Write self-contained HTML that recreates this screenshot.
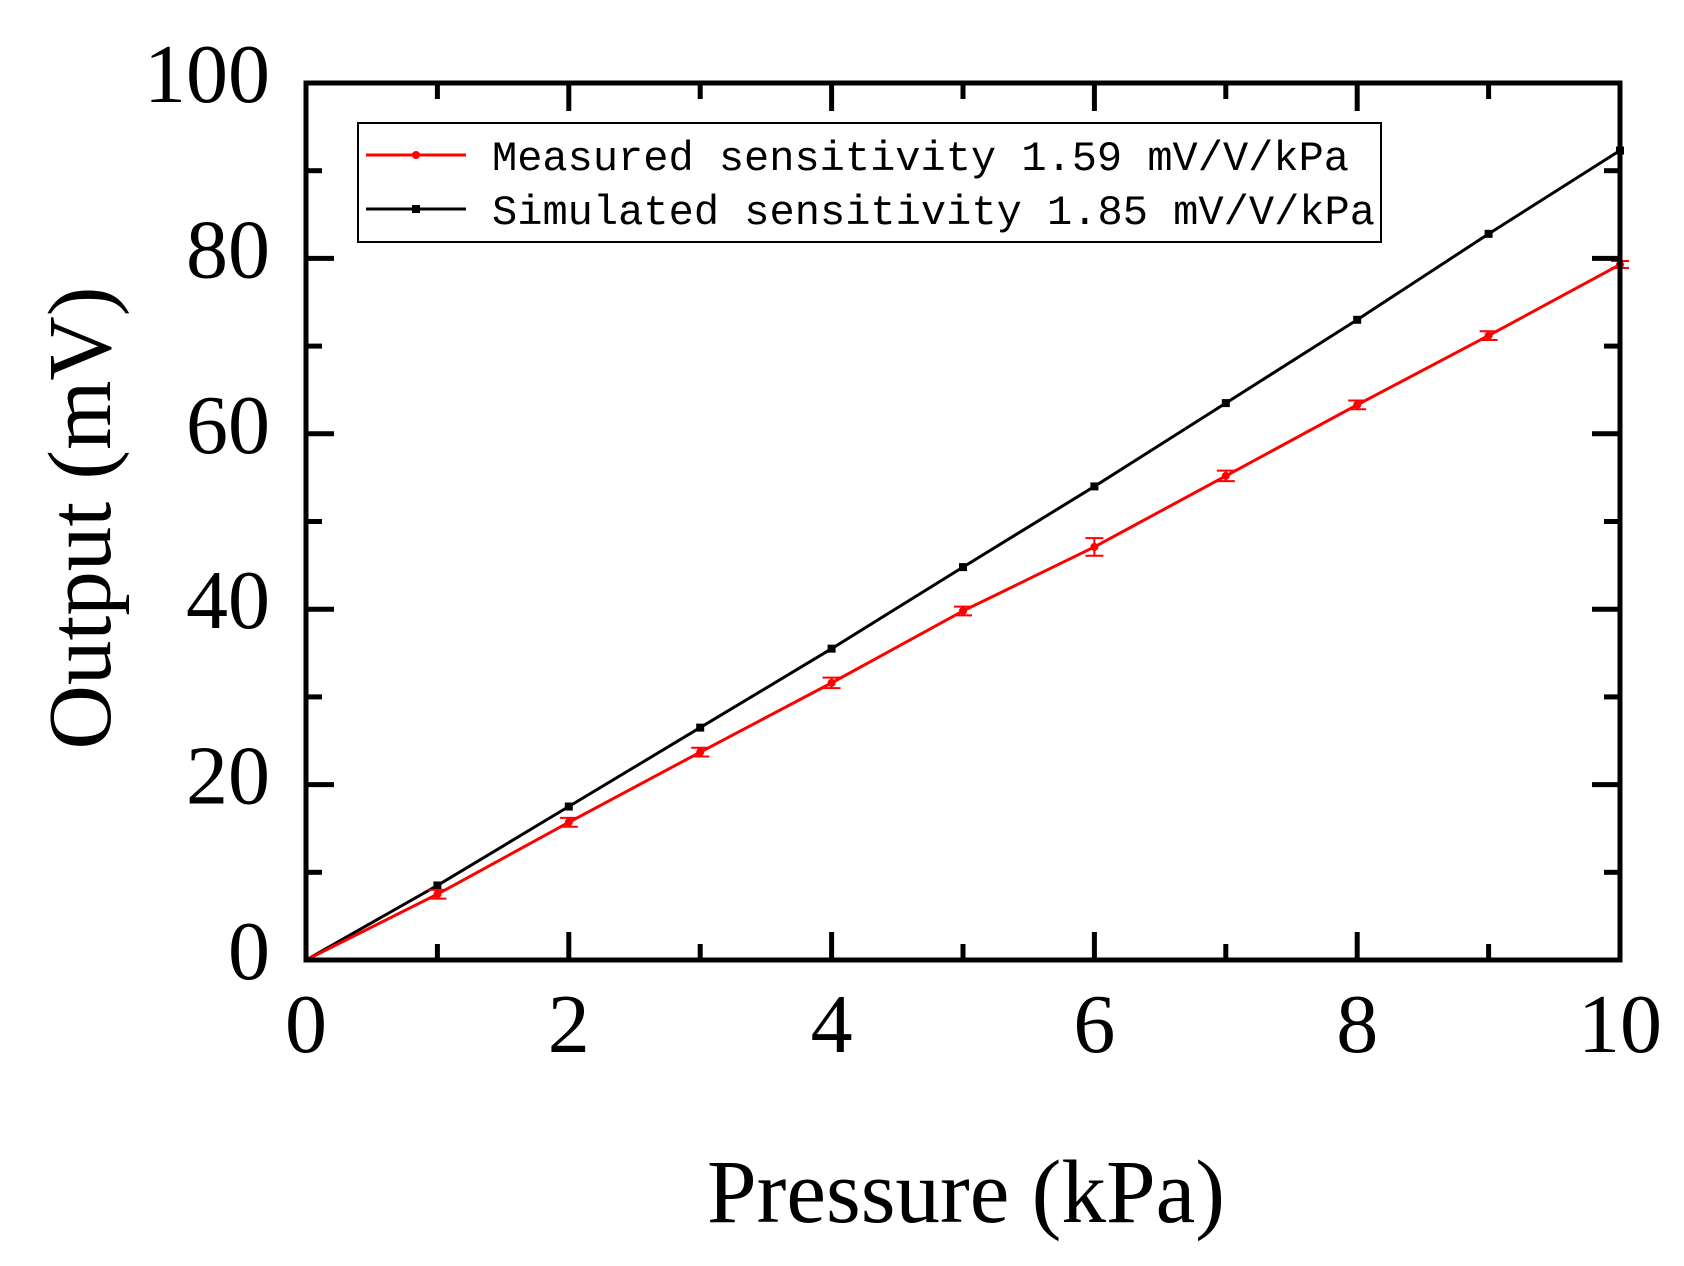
<!DOCTYPE html>
<html><head><meta charset="utf-8"><style>
html,body{margin:0;padding:0;background:#fff;}
svg{display:block;}
</style></head><body>
<svg id="chart" width="1684" height="1266" viewBox="0 0 1684 1266" xmlns="http://www.w3.org/2000/svg">
<rect x="0" y="0" width="1684" height="1266" fill="#fff"/>
<g id="marks"></g>
<rect x="306" y="83" width="1314" height="877" fill="none" stroke="#000" stroke-width="5"/>
<g id="ticks"></g>
<g>
<rect x="358" y="123" width="1023" height="119" fill="#fff" stroke="#000" stroke-width="2"/>
<g>
<line x1="366" y1="155" x2="466" y2="155" stroke="#f00" stroke-width="3"/>
<circle cx="416" cy="155" r="4" fill="#f00"/>
<text x="492" y="170" font-family="Liberation Mono, monospace" font-size="42" fill="#000" textLength="857" lengthAdjust="spacingAndGlyphs">Measured sensitivity 1.59 mV/V/kPa</text>
</g>
<g>
<line x1="366" y1="209" x2="466" y2="209" stroke="#000" stroke-width="3"/>
<rect x="412" y="205" width="8" height="8" fill="#000"/>
<text x="492" y="224" font-family="Liberation Mono, monospace" font-size="42" fill="#000" textLength="883" lengthAdjust="spacingAndGlyphs">Simulated sensitivity 1.85 mV/V/kPa</text>
</g>
</g>
<text x="966" y="1222" text-anchor="middle" font-family="Liberation Serif, serif" font-size="90" textLength="518" lengthAdjust="spacingAndGlyphs">Pressure (kPa)</text>
<text transform="translate(110,518) rotate(-90)" text-anchor="middle" font-family="Liberation Serif, serif" font-size="90" textLength="463" lengthAdjust="spacingAndGlyphs">Output (mV)</text>
</svg>
<script>
const xValues=[0,1,2,3,4,5,6,7,8,9,10];
const simulated=[0,8.5,17.5,26.5,35.5,44.8,54,63.5,73,82.8,92.3];
const measured=[0,7.5,15.7,23.7,31.6,39.8,47.1,55.2,63.3,71.2,79.3];
const measuredErr=[0,0.5,0.5,0.5,0.6,0.5,1.0,0.6,0.5,0.5,0.4];
const xTicks=[0,2,4,6,8,10];
const xMinor=[1,3,5,7,9];
const yTicks=[0,20,40,60,80,100];
const yMinor=[10,30,50,70,90];

const NS='http://www.w3.org/2000/svg';
const X0=306,X1=1620,Y0=960,Y1=83;
function sx(v){return X0+(v-0)/(10-0)*(X1-X0);}
function sy(v){return Y0-(v-0)/(100-0)*(Y0-Y1);}
function mk(tag,attrs,parent){const e=document.createElementNS(NS,tag);for(const k in attrs)e.setAttribute(k,attrs[k]);parent.appendChild(e);return e;}
const marks=document.getElementById('marks');
const ticks=document.getElementById('ticks');

function series(vals,color,name,square){
  const g=mk('g',{},marks);
  
  
  const pts=xValues.map((x,i)=>sx(x)+','+sy(vals[i])).join(' ');
  const pl=mk('polyline',{points:pts,fill:'none',stroke:color,'stroke-width':3},g);
  
  
  xValues.forEach((x,i)=>{
    if(i===0)return;
    let m;
    if(square) m=mk('rect',{x:sx(x)-4,y:sy(vals[i])-4,width:8,height:8,fill:color},g);
    else m=mk('circle',{cx:sx(x),cy:sy(vals[i]),r:4,fill:color},g);
    
    
  });
  return g;
}
series(simulated,'#000','simulated-series',true);
const mg=series(measured,'#f00','measured-series',false);
xValues.forEach((x,i)=>{
  if(i===0)return;
  const cx=sx(x),t=sy(measured[i]+measuredErr[i]),b=sy(measured[i]-measuredErr[i]);
  const eb=mk('path',{d:`M${cx-9},${t}H${cx+9}M${cx},${t}V${b}M${cx-9},${b}H${cx+9}`,stroke:'#f00','stroke-width':2,fill:'none'},mg);
  
  
});

xTicks.forEach(v=>{
  const x=sx(v);
  mk('line',{x1:x,y1:Y0,x2:x,y2:Y0-28,stroke:'#000','stroke-width':5},ticks);
  mk('line',{x1:x,y1:Y1,x2:x,y2:Y1+28,stroke:'#000','stroke-width':5},ticks);
  const t=mk('text',{x:x,y:1052,'text-anchor':'middle','font-family':'Liberation Serif, serif','font-size':84},ticks);
  t.textContent=String(v);
  
  
});
xMinor.forEach(v=>{
  const x=sx(v);
  mk('line',{x1:x,y1:Y0,x2:x,y2:Y0-16,stroke:'#000','stroke-width':5},ticks);
  mk('line',{x1:x,y1:Y1,x2:x,y2:Y1+16,stroke:'#000','stroke-width':5},ticks);
});
yTicks.forEach(v=>{
  const y=sy(v);
  mk('line',{x1:X0,y1:y,x2:X0+28,y2:y,stroke:'#000','stroke-width':5},ticks);
  mk('line',{x1:X1,y1:y,x2:X1-28,y2:y,stroke:'#000','stroke-width':5},ticks);
  const t=mk('text',{x:270,y:y+19,'text-anchor':'end','font-family':'Liberation Serif, serif','font-size':84},ticks);
  t.textContent=String(v);
  
  
});
yMinor.forEach(v=>{
  const y=sy(v);
  mk('line',{x1:X0,y1:y,x2:X0+16,y2:y,stroke:'#000','stroke-width':5},ticks);
  mk('line',{x1:X1,y1:y,x2:X1-16,y2:y,stroke:'#000','stroke-width':5},ticks);
});
</script>
</body></html>
